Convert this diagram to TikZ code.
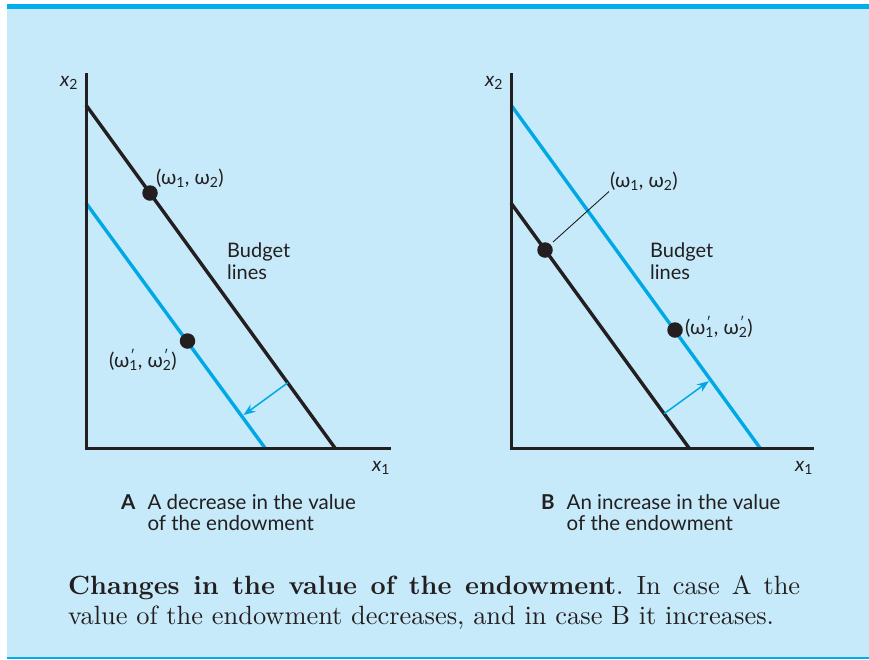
\documentclass[tikz,border=0pt]{standalone}
\usepackage{fontspec}
\newfontfamily\lab{Lato}
\newfontfamily\capfont{lmroman10}[Extension=.otf,UprightFont=*-regular,BoldFont=*-bold]
\usetikzlibrary{calc,arrows.meta}
\definecolor{bgblue}{RGB}{198,234,249}
\definecolor{barblue}{RGB}{0,174,239}
\definecolor{lineblue}{RGB}{0,168,230}
\definecolor{ink}{RGB}{35,31,32}
\newcommand{\wprime}[1]{ω\rlap{\textsuperscript{\kern1pt′}}\textsubscript{#1}}
\tikzset{
  axisline/.style={draw=ink,line width=3pt,line cap=rect},
  kline/.style={draw=ink,line width=3.4pt},
  bline/.style={draw=lineblue,line width=3.4pt},
  shiftarrow/.style={draw=lineblue,line width=1.5pt,-{Stealth[length=12pt,width=9pt]}},
  enddot/.style={circle,fill=ink,minimum size=15.5pt,inner sep=0pt},
  lbl/.style={font=\lab\fontsize{20}{21.5}\selectfont,text=ink,inner sep=1pt},
  captext/.style={font=\lab\fontsize{20.5}{21.5}\selectfont,text=ink,inner sep=0pt,align=left},
}
\begin{document}
\begin{tikzpicture}[x=1pt,y=-1pt]
\useasboundingbox (0,0) rectangle (869,659);
\fill[bgblue] (6.5,4) rectangle (869,659);
\fill[barblue] (6.5,4) rectangle (869,8.5);
\fill[barblue] (6.5,656.5) rectangle (869,659);
% ---------- Panel A ----------
\coordinate (Atop) at (86,74);
\coordinate (Ao) at (86,448);
\coordinate (Aend) at (389,448);
\coordinate (kA1) at (86,105);
\coordinate (kA2) at (335,448);
\coordinate (bA1) at (86,203);
\coordinate (bA2) at (265,448);
\draw[kline] (kA1) -- (kA2);
\draw[bline] (bA1) -- (bA2);
\draw[axisline] (Atop) -- (Ao) -- (Aend);
\node[lbl] (x2A) at (69,83) {\textit{x}\textsubscript{2}};
\node[lbl] (x1A) at (381,468) {\textit{x}\textsubscript{1}};
\node[enddot] (wA) at (150,193) {};
\node[enddot] (wpA) at (187.5,341) {};
\node[lbl,anchor=west] (wAl) at (155,178) {(ω\textsubscript{1}, ω\textsubscript{2})};
\node[lbl] (wpAl) at (143,360) {(\wprime{1}, \wprime{2})};
\node[lbl,anchor=north west,align=left] (budA) at (226,242) {Budget\\lines};
\coordinate (sA) at ($(kA1)!0.81!(kA2)$);
\coordinate (eA) at ($(bA1)!(sA)!(bA2)$);
\draw[shiftarrow] (sA) -- ($(eA)!2pt!(sA)$);
\node[captext,anchor=north west] (capA) at (121,494) {\textbf{A}\hspace{12pt}A decrease in the value\\\phantom{\textbf{A}\hspace{12pt}}of the endowment};
% ---------- Panel B ----------
\coordinate (Btop) at (511,74);
\coordinate (Bo) at (511,448);
\coordinate (Bend) at (812,448);
\coordinate (bB1) at (511,105);
\coordinate (bB2) at (760,448);
\coordinate (kB1) at (511,203);
\coordinate (kB2) at (689,448);
\draw[bline] (bB1) -- (bB2);
\draw[kline] (kB1) -- (kB2);
\draw[axisline] (Btop) -- (Bo) -- (Bend);
\node[lbl] (x2B) at (494,83) {\textit{x}\textsubscript{2}};
\node[lbl] (x1B) at (804,468) {\textit{x}\textsubscript{1}};
\node[enddot] (wB) at (545,250) {};
\node[enddot] (wpB) at (675,330) {};
\node[lbl,anchor=west] (wBl) at (609,181) {(ω\textsubscript{1}, ω\textsubscript{2})};
\node[lbl,anchor=west] (wpBl) at (684,327) {(\wprime{1}, \wprime{2})};
\node[lbl,anchor=north west,align=left] (budB) at (649,242) {Budget\\lines};
\coordinate (leadB) at (553,242);
\draw[draw=ink,line width=0.9pt] (leadB) -- (wBl.south west);
\coordinate (sB) at ($(kB1)!0.86!(kB2)$);
\coordinate (eB) at ($(bB1)!(sB)!(bB2)$);
\draw[shiftarrow] (sB) -- ($(eB)!2pt!(sB)$);
\node[captext,anchor=north west] (capB) at (541,494) {\textbf{B}\hspace{12pt}An increase in the value\\\phantom{\textbf{B}\hspace{12pt}}of the endowment};
% ---------- Caption ----------
\node[anchor=north west,inner sep=0pt,text width=732pt,align=justify,text=ink,
      font=\capfont\fontsize{26.4}{30}\selectfont] (caption) at (68,575)
  {\textbf{Changes in the value of the endowment}.\enspace In case A the\linebreak value of the endowment decreases, and in case B it increases.};
\end{tikzpicture}
\end{document}
